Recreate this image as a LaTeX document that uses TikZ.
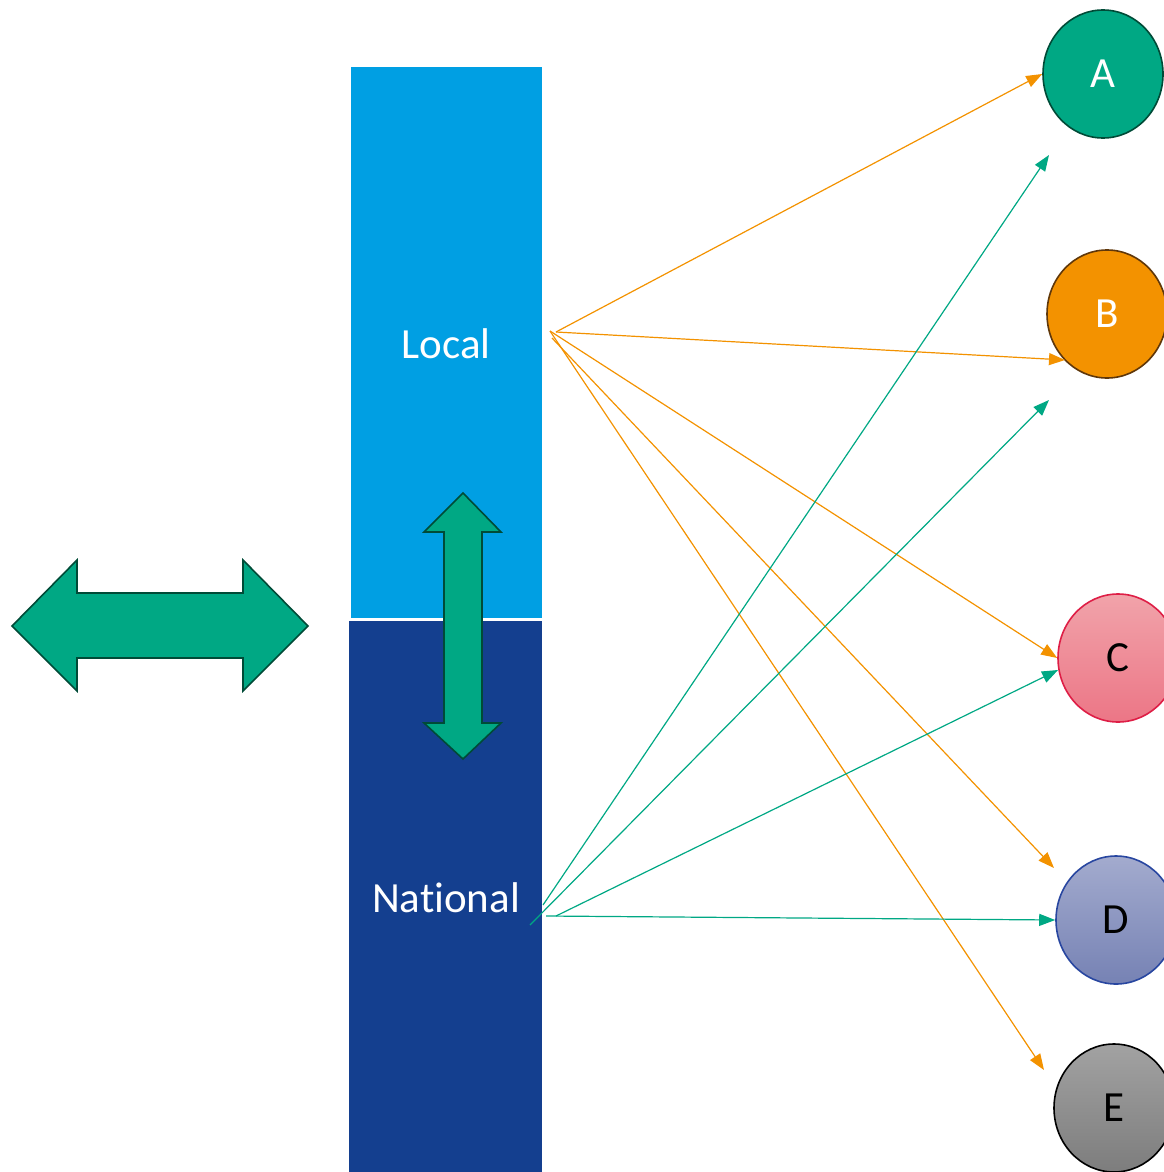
\documentclass[tikz,border=0pt]{standalone}
\usepackage{fontspec}
\setmainfont{Carlito}[Ligatures=NoCommon]
\usetikzlibrary{shapes.geometric,arrows.meta}
\definecolor{localblue}{RGB}{0,159,227}
\definecolor{natblue}{RGB}{20,63,143}
\definecolor{tealg}{RGB}{0,168,132}
\definecolor{darkg}{RGB}{0,75,55}
\definecolor{orng}{RGB}{243,146,0}
\definecolor{brwn}{RGB}{95,55,10}
\definecolor{pinkt}{RGB}{241,163,170}
\definecolor{pinkb}{RGB}{236,118,134}
\definecolor{crim}{RGB}{222,30,70}
\definecolor{lavt}{RGB}{163,171,206}
\definecolor{lavb}{RGB}{118,130,180}
\definecolor{dblue}{RGB}{40,70,160}
\definecolor{greyt}{RGB}{162,162,162}
\definecolor{greyb}{RGB}{125,125,125}
\tikzset{
  lbl/.style={font=\fontsize{43}{43}\selectfont, text=white},
  circ/.style={ellipse, minimum width=120pt, minimum height=128pt, inner sep=0pt, line width=1.6pt, font=\fontsize{43}{43}\selectfont},
  bigarrow/.style={fill=tealg, draw=darkg, line width=1.6pt, line join=miter},
  orarr/.style={draw=orng, line width=1.2pt, -{Triangle[length=16pt,width=12pt]}},
  grarr/.style={draw=tealg, line width=1.2pt, -{Triangle[length=16pt,width=12pt]}}
}
\begin{document}
\begin{tikzpicture}[x=1pt,y=-1pt]
\useasboundingbox (0,0) rectangle (1163,1172);
% bars
\fill[localblue] (351,67) rectangle (542,618);
\fill[natblue] (349,621) rectangle (542,1172);
\node[lbl] (local) at (446,344) {Local};
\node[lbl] (national) at (446,898) {National};
% vertical double arrow
\draw[bigarrow] (463,493) -- (501,532) -- (482,532) -- (482,723) -- (501,723) -- (463,759) -- (424,723) -- (444,723) -- (444,532) -- (424,532) -- cycle;
% horizontal double arrow
\draw[bigarrow] (12,626) -- (77,560) -- (77,593) -- (243,593) -- (243,560) -- (308,626) -- (243,691) -- (243,658) -- (77,658) -- (77,691) -- cycle;
% circles
\node[circ, fill=tealg, draw=darkg, text=white] (A) at (1103,74) {A};
\node[circ, fill=orng, draw=brwn, text=white] (B) at (1107,314) {B};
\node[circ, top color=pinkt, bottom color=pinkb, draw=crim, text=black] (C) at (1118,658) {C};
\node[circ, top color=lavt, bottom color=lavb, draw=dblue, text=black] (D) at (1116,920) {D};
\node[circ, top color=greyt, bottom color=greyb, draw=black, text=black] (E) at (1114,1108) {E};
% start points
\coordinate (l1) at (556,332);
\coordinate (l2) at (550,331);
\coordinate (l3) at (552,338);
\coordinate (n1) at (543,905);
\coordinate (n2) at (530,925);
\coordinate (n3) at (556,916);
\coordinate (n4) at (546,916);
% free ends
\coordinate (eB) at (1065,360);
\coordinate (eD) at (1054,868);
\coordinate (eE) at (1044,1070);
\coordinate (gA) at (1049,155);
\coordinate (gB) at (1049,400);
\coordinate (gC) at (1058,670);
% orange arrows
\draw[orarr] (l1) -- (A.west);
\draw[orarr] (l1) -- (eB);
\draw[orarr] (l2) -- (C.west);
\draw[orarr] (l3) -- (eD);
\draw[orarr] (l2) -- (eE);
% green arrows
\draw[grarr] (n1) -- (gA);
\draw[grarr] (n2) -- (gB);
\draw[grarr] (n3) -- (gC);
\draw[grarr] (n4) -- (D.west);
\end{tikzpicture}
\end{document}
